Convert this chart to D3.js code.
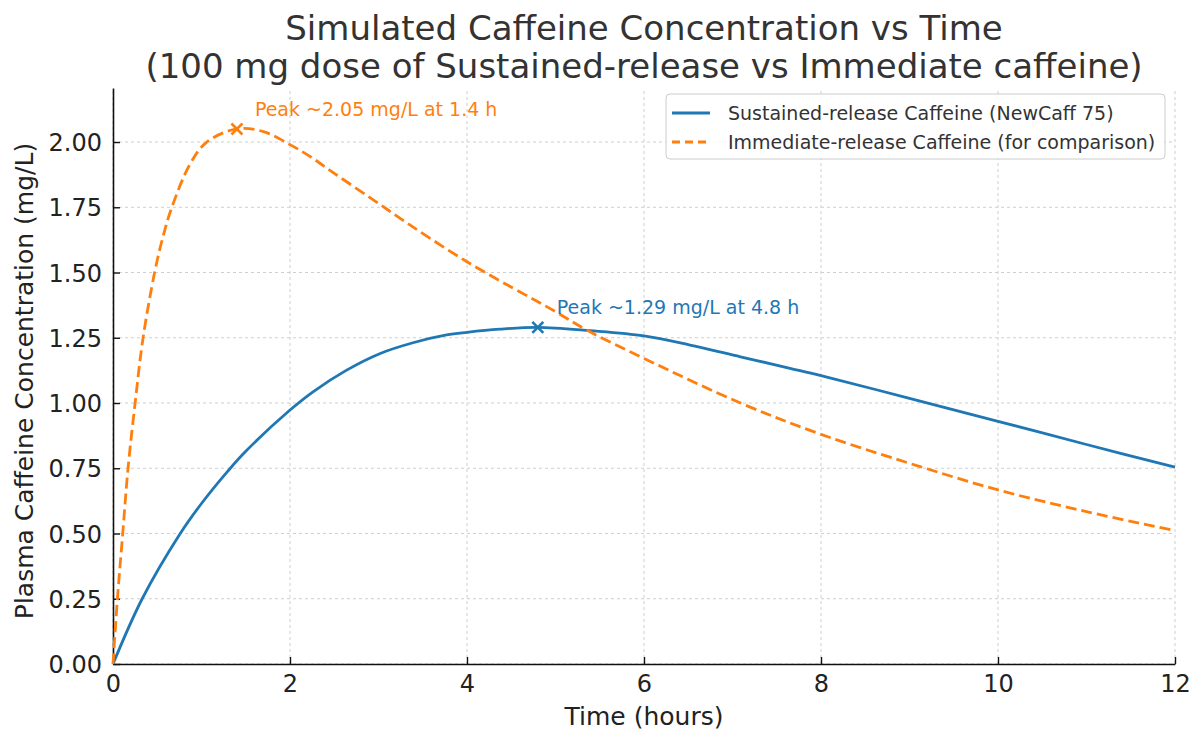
<!DOCTYPE html>
<html>
<head>
<meta charset="utf-8">
<script src="https://cdn.jsdelivr.net/npm/d3@7"></script>
<style>
  body { margin: 0; background: #fff; }
  text { font-family: "DejaVu Sans", sans-serif; }
</style>
</head>
<body>
<div id="chart"></div>
<script>
// Sustained-release curve (hours, mg/L)
const timeSR = [0, 0.33, 0.76, 1.0, 1.3, 1.5, 2.0, 2.26, 2.64, 3.02, 3.39, 3.77, 4.0, 4.37, 4.8, 5.39, 6.0, 6.52, 7.09, 7.65, 8.0, 9.0, 10.0, 11.0, 12.0];
const concSR = [0, 0.25, 0.5, 0.615, 0.74, 0.815, 0.973, 1.043, 1.126, 1.19, 1.231, 1.261, 1.271, 1.283, 1.29, 1.277, 1.257, 1.222, 1.177, 1.133, 1.105, 1.018, 0.930, 0.841, 0.754];

// Immediate-release curve
const timeIR = [0, 0.05, 0.11, 0.17, 0.25, 0.34, 0.47, 0.567, 0.665, 0.87, 1.06, 1.4, 1.7, 2.0, 2.23, 2.5, 3.0, 3.2, 4.0, 5.0, 5.35, 6.0, 7.09, 8.0, 9.0, 10.0, 11.0, 12.0];
const concIR = [0, 0.25, 0.5, 0.75, 1.0, 1.25, 1.5, 1.64, 1.75, 1.915, 2.0, 2.05, 2.04, 1.99, 1.944, 1.88, 1.765, 1.718, 1.541, 1.35, 1.28, 1.171, 1.0, 0.88, 0.769, 0.667, 0.584, 0.511];

// peaks
const peakSR = [4.8, 1.29];
const peakIR = [1.4, 2.05];

const xTicks = [0, 2, 4, 6, 8, 10, 12];
const yTicks = [0, 0.25, 0.5, 0.75, 1.0, 1.25, 1.5, 1.75, 2.0];

const seriesNames = ["Sustained-release Caffeine (NewCaff 75)", "Immediate-release Caffeine (for comparison)"];
const blue = "#1f77b4", orange = "#ff7f0e";

var width = 1200, height = 740;
var margin = { top: 88, right: 25, bottom: 76, left: 113 };

var svg = d3.select("#chart").append("svg")
    .attr("width", width)
    .attr("height", height);

var x = d3.scaleLinear().domain([0, 12]).range([margin.left, width - margin.right]);
var y = d3.scaleLinear().domain([0, 2.207]).range([height - margin.bottom, margin.top]);

// grid
svg.append("g").selectAll("line.vg")
    .data(xTicks).enter().append("line")
    .attr("x1", d => x(d)).attr("x2", d => x(d))
    .attr("y1", y.range()[0]).attr("y2", y.range()[1])
    .attr("stroke", "#cfcfcf").attr("stroke-width", 1).attr("stroke-dasharray", "3,3");
svg.append("g").selectAll("line.hg")
    .data(yTicks).enter().append("line")
    .attr("x1", x.range()[0]).attr("x2", x.range()[1])
    .attr("y1", d => y(d)).attr("y2", d => y(d))
    .attr("stroke", "#cfcfcf").attr("stroke-width", 1).attr("stroke-dasharray", "3,3");

// axes, ticks pointing inward
var xAxis = svg.append("g")
    .attr("transform", "translate(0," + y(0) + ")")
    .call(d3.axisBottom(x).tickValues(xTicks).tickFormat(d3.format("d")).tickSizeInner(-7).tickSizeOuter(0).tickPadding(11));
var yAxis = svg.append("g")
    .attr("transform", "translate(" + x(0) + ",0)")
    .call(d3.axisLeft(y).tickValues(yTicks).tickFormat(d3.format(".2f")).tickSizeInner(-7).tickSizeOuter(0).tickPadding(11));

[xAxis, yAxis].forEach(a => {
    a.select(".domain").attr("stroke", "#111").attr("stroke-width", 1.6);
    a.selectAll(".tick line").attr("stroke", "#111").attr("stroke-width", 1.4);
    a.selectAll(".tick text").style("font-size", "24px").attr("fill", "#222");
});
yAxis.selectAll(".tick text").attr("dy", "0.36em");

// lines
var line = d3.line()
    .x(d => x(d[0]))
    .y(d => y(d[1]))
    .curve(d3.curveCatmullRom.alpha(0.5));

svg.append("path")
    .datum(d3.zip(timeSR, concSR))
    .attr("d", line)
    .attr("fill", "none")
    .attr("stroke", blue)
    .attr("stroke-width", 2.8);

svg.append("path")
    .datum(d3.zip(timeIR, concIR))
    .attr("d", line)
    .attr("fill", "none")
    .attr("stroke", orange)
    .attr("stroke-width", 2.8)
    .attr("stroke-dasharray", "11,5");

// peak markers
function cross(p, color) {
    var cx = x(p[0]), cy = y(p[1]), s = 5.5;
    var g = svg.append("g").attr("stroke", color).attr("stroke-width", 2.6);
    g.append("line").attr("x1", cx - s).attr("y1", cy - s).attr("x2", cx + s).attr("y2", cy + s);
    g.append("line").attr("x1", cx - s).attr("y1", cy + s).attr("x2", cx + s).attr("y2", cy - s);
}
cross(peakIR, orange);
cross(peakSR, blue);

svg.append("text")
    .attr("x", x(peakIR[0]) + 18).attr("y", y(peakIR[1]) - 13)
    .attr("fill", orange).style("font-size", "19px")
    .text("Peak ~" + peakIR[1].toFixed(2) + " mg/L at " + peakIR[0] + " h");
svg.append("text")
    .attr("x", x(peakSR[0]) + 19).attr("y", y(peakSR[1]) - 13)
    .attr("fill", blue).style("font-size", "19px")
    .text("Peak ~" + peakSR[1].toFixed(2) + " mg/L at " + peakSR[0] + " h");

// title and labels
var cxMid = (x.range()[0] + x.range()[1]) / 2;
var title = svg.append("text")
    .attr("text-anchor", "middle")
    .attr("fill", "#333")
    .style("font-size", "34px");
title.append("tspan").attr("x", cxMid).attr("y", 40).text("Simulated Caffeine Concentration vs Time");
title.append("tspan").attr("x", cxMid).attr("y", 78).text("(100 mg dose of Sustained-release vs Immediate caffeine)");

svg.append("text")
    .attr("x", cxMid)
    .attr("y", 725)
    .attr("text-anchor", "middle")
    .attr("fill", "#222")
    .style("font-size", "25px")
    .text("Time (hours)");

svg.append("text")
    .attr("transform", "translate(33,381) rotate(-90)")
    .attr("text-anchor", "middle")
    .attr("fill", "#222")
    .style("font-size", "25px")
    .text("Plasma Caffeine Concentration (mg/L)");

// legend
var legend = svg.append("g").attr("transform", "translate(666,94)");
legend.append("rect")
    .attr("width", 499).attr("height", 65)
    .attr("rx", 4)
    .attr("fill", "#fff").attr("fill-opacity", 0.85)
    .attr("stroke", "#ccc").attr("stroke-width", 1);

var items = legend.selectAll("g.item")
    .data(seriesNames).enter().append("g")
    .attr("transform", (d, i) => "translate(0," + (19 + i * 29) + ")");
items.append("line")
    .attr("x1", 6).attr("x2", 44)
    .attr("stroke", (d, i) => i === 0 ? blue : orange)
    .attr("stroke-width", 2.8)
    .attr("stroke-dasharray", (d, i) => i === 0 ? null : "8,5");
items.append("text")
    .attr("x", 62).attr("dy", "0.36em")
    .attr("fill", "#333")
    .style("font-size", "19px")
    .text(d => d);
</script>
</body>
</html>
